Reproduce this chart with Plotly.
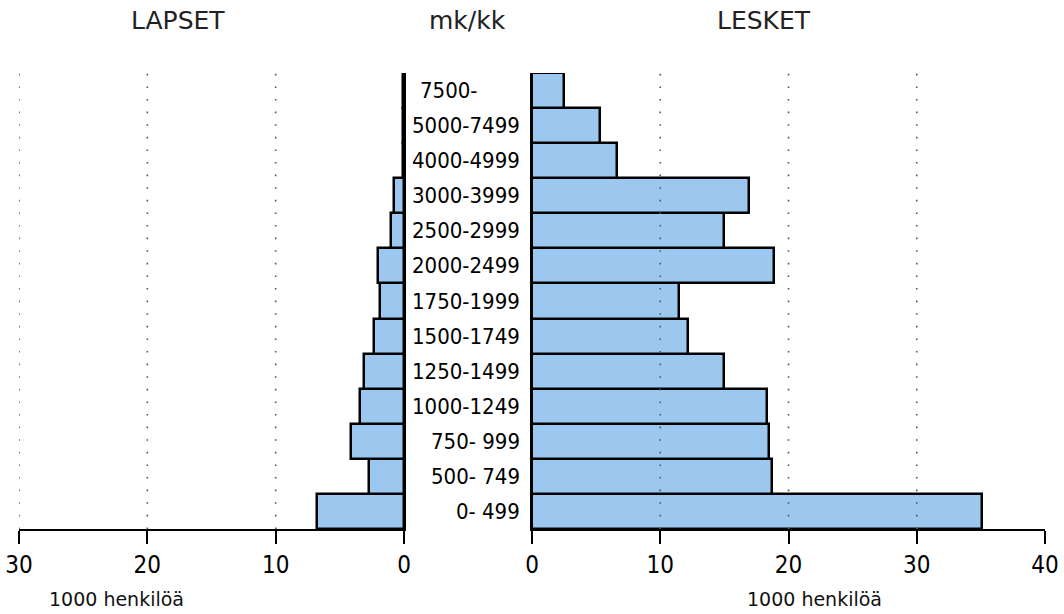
import plotly.graph_objects as go

categories = ["0- 499", "500- 749", "750- 999", "1000-1249", "1250-1499", "1500-1749",
              "1750-1999", "2000-2499", "2500-2999", "3000-3999", "4000-4999",
              "5000-7499", "7500-"]
lapset = [6.8, 2.7, 4.1, 3.4, 3.1, 2.3, 1.9, 2.05, 1.05, 0.75, 0.1, 0.1, 0.1]
lesket = [35.1, 18.7, 18.5, 18.3, 15.0, 12.2, 11.5, 18.9, 15.0, 16.9, 6.6, 5.3, 2.5]
left_ticks = [0, 10, 20, 30]
right_ticks = [0, 10, 20, 30, 40]

W, H = 1064, 614
FONT = "DejaVu Sans Condensed, Liberation Sans Narrow, sans-serif"
FILL = "#9cc8f0"

def px(x):
    return x / W

def py(y):
    return 1 - y / H

fig = go.Figure()
fig.add_trace(go.Bar(y=categories, x=lapset, orientation="h", xaxis="x", yaxis="y",
                     marker=dict(color=FILL, line=dict(color="black", width=2.5)),
                     showlegend=False, hoverinfo="x+y"))
fig.add_trace(go.Bar(y=categories, x=lesket, orientation="h", xaxis="x2", yaxis="y2",
                     marker=dict(color=FILL, line=dict(color="black", width=2.5)),
                     showlegend=False, hoverinfo="x+y"))

ydom = [py(529), py(73)]
axis_common = dict(showgrid=False, zeroline=False, showline=True, linecolor="black",
                   linewidth=2, ticks="outside", ticklen=13, tickwidth=2, tickcolor="black",
                   tickfont=dict(family=FONT, size=24, color="black"), fixedrange=True,
                   automargin=False, ticklabeloverflow="allow")

fig.update_layout(
    width=W, height=H,
    margin=dict(l=0, r=0, t=0, b=0, pad=0),
    paper_bgcolor="white", plot_bgcolor="rgba(0,0,0,0)",
    bargap=0,
    xaxis=dict(domain=[px(19), px(404)], range=[30, 0], tickvals=left_ticks,
               anchor="y", **axis_common),
    xaxis2=dict(domain=[px(532), px(1045)], range=[0, 40], tickvals=right_ticks,
                anchor="y2", **axis_common),
    yaxis=dict(domain=ydom, anchor="x", side="right", showline=True, linecolor="black",
               linewidth=2, showticklabels=False, ticks="", showgrid=False, automargin=False,
               categoryorder="array", categoryarray=categories, fixedrange=True),
    yaxis2=dict(domain=ydom, anchor="x2", showline=True, linecolor="black", linewidth=2,
                showticklabels=False, ticks="", showgrid=False, automargin=False,
                categoryorder="array", categoryarray=categories, fixedrange=True),
)

# dotted gridlines drawn above bars
for v in left_ticks[1:]:
    fig.add_shape(type="line", xref="x", yref="paper", x0=v, x1=v, y0=ydom[0], y1=ydom[1],
                  line=dict(color="#555", width=1.6, dash="1.6px,11px"), layer="above")
for v in right_ticks[1:-1]:
    fig.add_shape(type="line", xref="x2", yref="paper", x0=v, x1=v, y0=ydom[0], y1=ydom[1],
                  line=dict(color="#555", width=1.6, dash="1.6px,11px"), layer="above")

# category labels
for c in categories:
    if c == "7500-":
        fig.add_annotation(x=px(418), xref="paper", y=c, yref="y2", text=c, showarrow=False,
                           xanchor="left", yanchor="middle",
                           font=dict(family=FONT, size=22, color="black"))
    else:
        fig.add_annotation(x=px(522), xref="paper", y=c, yref="y2", text=c, showarrow=False,
                           xanchor="right", yanchor="middle",
                           font=dict(family=FONT, size=22, color="black"))

TFONT = dict(family="DejaVu Sans, sans-serif", size=25, color="#222")
for txt, x in [("LAPSET", 178), ("mk/kk", 467), ("LESKET", 764)]:
    fig.add_annotation(x=px(x), y=py(20), xref="paper", yref="paper", text=txt,
                       showarrow=False, xanchor="center", yanchor="middle", font=TFONT)
for x in [47, 745]:
    fig.add_annotation(x=px(x), y=py(599), xref="paper", yref="paper", text="1000 henkilöä",
                       showarrow=False, xanchor="left", yanchor="middle",
                       font=dict(family="DejaVu Sans, sans-serif", size=19, color="#111"))

fig.write_html("out.html", config={"displayModeBar": False},
               post_script="document.body.style.margin='0';document.body.style.overflow='hidden';")
